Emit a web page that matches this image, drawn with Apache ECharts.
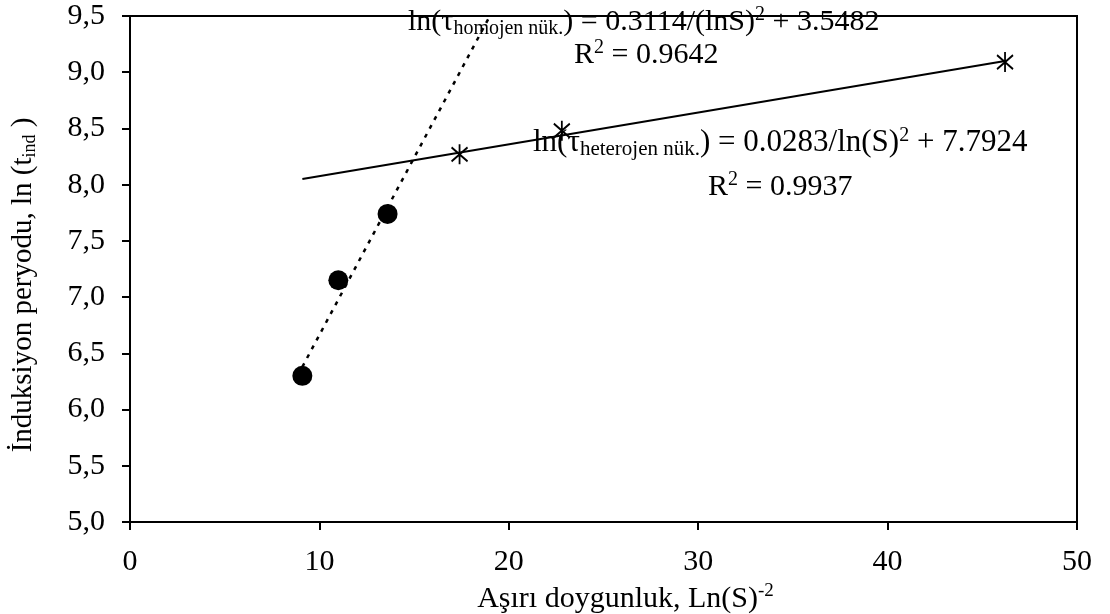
<!DOCTYPE html>
<html><head><meta charset="utf-8">
<script src="https://cdn.jsdelivr.net/npm/echarts@6/dist/echarts.min.js"></script>
<style>html,body{margin:0;padding:0;background:#fff}#c{width:1110px;height:614px}</style>
</head><body><div id="c"></div>
<script>
var homX = [9.1, 11.0, 13.6];
var homY = [6.30, 7.15, 7.74];
var hetX = [17.4, 22.8, 46.2];
var hetY = [8.27, 8.48, 9.09];
var homTrendX = [9.1, 19.0];
var homTrendY = [6.38, 9.5];
var hetTrendX = [9.1, 46.2];
var hetTrendY = [8.05, 9.10];
var xTicks = [0, 10, 20, 30, 40, 50];
var yTicks = [5.0, 5.5, 6.0, 6.5, 7.0, 7.5, 8.0, 8.5, 9.0, 9.5];

function zip(a, b) { return a.map(function (v, i) { return [v, b[i]]; }); }
var F = '"Liberation Serif", "DejaVu Serif", serif';
var rich = {
  m: { fontFamily: F, fontSize: 30, color: '#000', lineHeight: 34 },
  sub: { fontFamily: F, fontSize: 20, color: '#000', verticalAlign: 'bottom', lineHeight: 22 },
  sup: { fontFamily: F, fontSize: 20, color: '#000', verticalAlign: 'top', lineHeight: 10 }
};
var rich2 = {
  m: { fontFamily: F, fontSize: 31, color: '#000', lineHeight: 34 },
  sub: { fontFamily: F, fontSize: 21, color: '#000', verticalAlign: 'bottom', lineHeight: 22 },
  sup: { fontFamily: F, fontSize: 20, color: '#000', verticalAlign: 'top', lineHeight: 10 }
};
var star = 'path://M8,0L8,20M0,3L16,17M0,17L16,3';

var chart = echarts.init(document.getElementById('c'));
chart.setOption({
  animation: false,
  backgroundColor: '#fff',
  grid: { left: 130, right: 33, top: 16, bottom: 92, outerBoundsMode: 'none', containLabel: false, show: true, borderColor: '#000', borderWidth: 2, backgroundColor: 'transparent' },
  xAxis: {
    type: 'value', min: 0, max: 50, interval: 10,
    axisLine: { show: true, lineStyle: { color: '#000', width: 2 } },
    axisTick: { show: true, inside: false, length: 8, lineStyle: { color: '#000', width: 2 } },
    axisLabel: { fontFamily: F, fontSize: 30, color: '#000', margin: 25,
      formatter: function (v) { return xTicks.indexOf(v) >= 0 ? String(v) : ''; } },
    splitLine: { show: false },
    name: '{m|Aşırı doygunluk, Ln(S)}{sup|-2}',
    nameLocation: 'middle', nameGap: 57,
    nameTextStyle: { padding: [0, 0, 0, 44], rich: { m: { fontFamily: F, fontSize: 30, color: '#000', lineHeight: 34 }, sup: { fontFamily: F, fontSize: 19, color: '#000', verticalAlign: 'top', lineHeight: 12 } } }
  },
  yAxis: {
    type: 'value', min: 5, max: 9.5, interval: 0.5,
    axisLine: { show: true, lineStyle: { color: '#000', width: 2 } },
    axisTick: { show: true, inside: false, length: 8, lineStyle: { color: '#000', width: 2 } },
    axisLabel: { fontFamily: F, fontSize: 30, color: '#000', margin: 25,
      formatter: function (v) { return yTicks.indexOf(Math.round(v * 10) / 10) >= 0 ? v.toFixed(1).replace('.', ',') : ''; } },
    splitLine: { show: false },
    name: '{m|İnduksiyon peryodu, ln (t}{sub|ind}{m| )}',
    nameLocation: 'middle', nameGap: 91,
    nameTextStyle: { padding: [0, 32, 0, 0], rich: { m: { fontFamily: F, fontSize: 29, color: '#000', lineHeight: 32 }, sub: { fontFamily: F, fontSize: 18, color: '#000', verticalAlign: 'bottom', lineHeight: 22 } } }
  },
  series: [
    { type: 'line', data: zip(homTrendX, homTrendY), symbol: 'none', lineStyle: { color: '#000', width: 2.5, type: [4, 6] }, z: 2 },
    { type: 'line', data: zip(hetTrendX, hetTrendY), symbol: 'none', lineStyle: { color: '#000', width: 2 }, z: 2 },
    { type: 'scatter', data: zip(homX, homY), symbol: 'circle', symbolSize: 20, itemStyle: { color: '#000', opacity: 1 }, z: 3 },
    { type: 'scatter', data: zip(hetX, hetY), symbol: star, symbolSize: [16, 20], itemStyle: { color: 'none', borderColor: '#000', borderWidth: 2, opacity: 1 }, z: 3 }
  ],
  graphic: [
    { type: 'text', left: 408, top: 5, z: 10, style: { text: '{m|ln(τ}{sub|homojen nük.}{m|) = 0.3114/(lnS)}{sup|2}{m| + 3.5482}', rich: rich } },
    { type: 'text', left: 574, top: 38, z: 10, style: { text: '{m|R}{sup|2}{m| = 0.9642}', rich: rich } },
    { type: 'text', left: 708, top: 170, z: 10, style: { text: '{m|R}{sup|2}{m| = 0.9937}', rich: rich } },
    { type: 'text', left: 533, top: 126, z: 10, style: { text: '{m|ln(τ}{sub|heterojen nük.}{m|) = 0.0283/ln(S)}{sup|2}{m| + 7.7924}', rich: rich2 } }
  ]
});
</script></body></html>
